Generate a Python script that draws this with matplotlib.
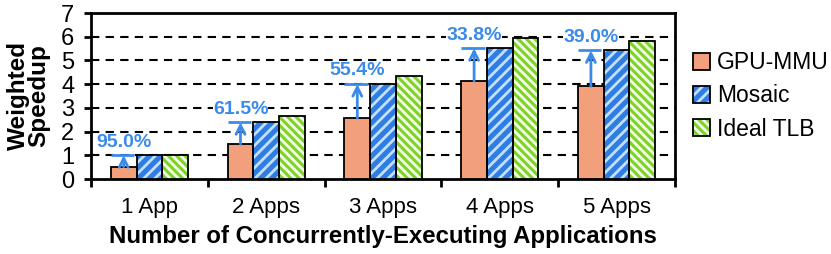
import numpy as np
import matplotlib.pyplot as plt
from matplotlib.legend_handler import HandlerTuple

plt.rcParams['font.family'] = ['Liberation Sans', 'DejaVu Sans']
plt.rcParams['hatch.linewidth'] = 2.0

# Datos
categorias = ['1 App', '2 Apps', '3 Apps', '4 Apps', '5 Apps']
gpu_mmu = [0.52, 1.47, 2.57, 4.13, 3.91]
mosaic = [1.00, 2.39, 4.00, 5.51, 5.42]
ideal_tlb = [1.01, 2.66, 4.36, 5.94, 5.80]
mejoras = ['95.0%', '61.5%', '55.4%', '33.8%', '39.0%']

x = np.arange(len(categorias))
w = 0.22
azul_txt = '#3A8AEA'

fig = plt.figure(figsize=(8.31, 2.54), dpi=100)
ax = fig.add_axes([91/831, 1 - 179/254, 584/831, 166/254])

# barras: relleno con rayado + contorno negro aparte
series = [
    (gpu_mmu, -w, '#F2A07C', None, None),
    (mosaic, 0, '#2F7DE3', '#C4E0FF', '///'),
    (ideal_tlb, w, '#7ED22A', '#F4FFE8', '\\\\\\\\'),
]
handles = []
for vals, off, fc, hc, hatch in series:
    b1 = ax.bar(x + off, vals, w, color=fc, edgecolor=hc if hc else fc,
                hatch=hatch, linewidth=0, zorder=3)
    b2 = ax.bar(x + off, vals, w, fill=False, edgecolor='black',
                linewidth=1.3, zorder=4)
    handles.append((b1.patches[0], b2.patches[0]))

# flechas de mejora
for i in range(len(categorias)):
    xc = x[i] - w
    ax.annotate('', xy=(xc, mosaic[i]), xytext=(xc, gpu_mmu[i]),
                arrowprops=dict(arrowstyle='->', color=azul_txt, lw=2,
                                shrinkA=0, shrinkB=0, mutation_scale=16),
                zorder=5)
    ax.hlines(mosaic[i], xc - w / 2, xc + w / 2 - 0.02, color=azul_txt,
              lw=2, zorder=5)
    ax.text(xc, mosaic[i] + 0.2, mejoras[i], color=azul_txt,
            fontsize=14, fontweight='bold', ha='center', va='bottom', zorder=6,
            bbox=dict(facecolor='white', edgecolor='none', pad=0))

ax.set_xlim(-0.5, 4.5)
ax.set_ylim(0, 7)
ax.set_yticks(range(8))
ax.set_xticks(x)
ax.set_xticklabels(categorias)
ax.set_xticks(np.arange(-0.5, 5, 1), minor=True)
ax.tick_params(axis='x', which='major', length=0, labelsize=16, pad=13)
ax.tick_params(axis='x', which='minor', length=6, width=2, direction='out')
ax.tick_params(axis='y', length=5, width=2, labelsize=17, pad=7)

for y in range(1, 7):
    ax.axhline(y, color='black', ls=(0, (4, 3)), lw=1.5, zorder=1)
for s in ax.spines.values():
    s.set_linewidth(2)

ax.set_ylabel('Weighted\nSpeedup', fontsize=17.5, fontweight='bold',
              linespacing=0.85, labelpad=8)
ax.set_xlabel('Number of Concurrently-Executing Applications', fontsize=17.3,
              fontweight='bold', labelpad=5)

ax.legend(handles, ['GPU-MMU', 'Mosaic', 'Ideal TLB'],
          handler_map={tuple: HandlerTuple(ndivide=1)},
          loc='center left', bbox_to_anchor=(0.995, 0.5), frameon=False,
          fontsize=16.5, handlelength=0.75, handleheight=0.75,
          handletextpad=0.3, labelspacing=0.45)

fig.savefig('out.png', dpi=100)
